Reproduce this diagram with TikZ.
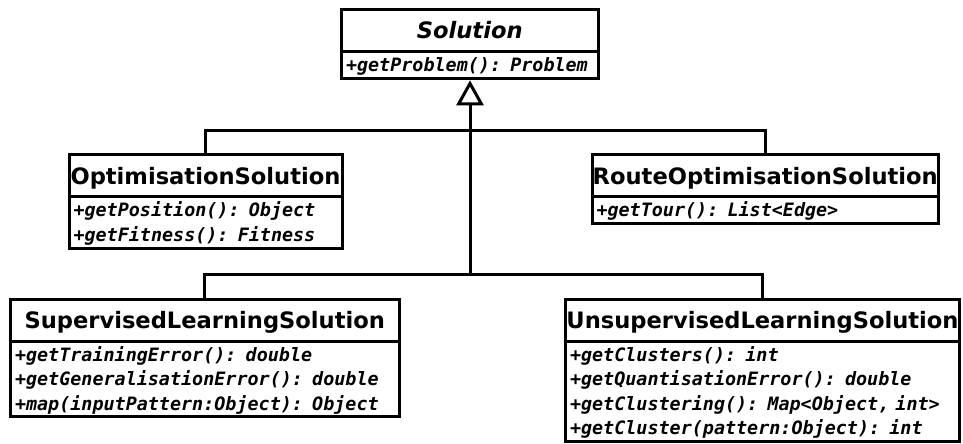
\documentclass[tikz,border=0pt]{standalone}
\usepackage{fontspec}
\usetikzlibrary{positioning,arrows.meta}
\newfontfamily\dejasans{DejaVu Sans}
\newfontfamily\dejamono{DejaVu Sans Mono}
\newcommand\opsstrut{\leavevmode\rule{0pt}{17pt}}
\tikzset{
  class box/.style={
    draw,
    line width=3pt,
    outer sep=0pt,
    inner xsep=-3pt,
    inner ysep=0pt,
    minimum width={#1},
    minimum height={42pt},
    anchor=north west,
    text height=17pt,
    text depth=0pt,
    font=\dejasans\bfseries\fontsize{22.6}{27}\selectfont,
  },
  method box/.style={
    draw,
    line width=3pt,
    outer sep=0pt,
    inner xsep=4.5pt,
    inner ysep=3pt,
    text width={#1},
    align=left,
    execute at begin node=\opsstrut,
    font=\dejamono\bfseries\itshape\fontsize{18.4}{24.5}\selectfont,
  },
  inherit/.style={
    line width=3pt,
  }
}

\begin{document}
\begin{tikzpicture}[x=1pt, y=-1pt]
        \useasboundingbox (0,0) rectangle (963,444);

        \node [class box=256.5pt] (sol) at (341.5,9.5) {\itshape Solution};
        \node [method box=247.5pt, below=0pt of sol] (sol ops) {+getProblem(): Problem};

        \node [class box=273pt] (opt) at (69,154.7) {OptimisationSolution};
        \node [method box=264pt, below=0pt of opt] (opt ops) {+getPosition(): Object\\+getFitness(): Fitness};

        \node [class box=346.5pt] (route) at (592,154.7) {RouteOptimisationSolution};
        \node [method box=337.5pt, below=0pt of route] (route ops) {+getTour(): List<Edge>};

        \node [class box=388.5pt] (sup) at (10.5,299) {SupervisedLearningSolution};
        \node [method box=379.5pt, below=0pt of sup] (sup ops) {+getTrainingError(): double\\+getGeneralisationError(): double\\+map(inputPattern:Object): Object};

        \node [class box=394pt] (unsup) at (565.5,299) {UnsupervisedLearningSolution};
        \node [method box=385pt, below=0pt of unsup] (unsup ops) {+getClusters(): int\\+getQuantisationError(): double\\+getClustering(): Map<Object, int>\\+getCluster(pattern:Object): int};

        \coordinate (upper bar) at (470,130.7);
        \coordinate (lower bar) at (470,274);

        \draw [inherit] (opt.north) |- (upper bar) -| (route.north);
        \draw [inherit] (sup.north) |- (lower bar) -| (unsup.north);
        \draw [inherit, -{Triangle[length=25pt, width=27pt, fill=white]}, shorten >=2pt] (lower bar) -- (lower bar |- sol ops.south);
    \end{tikzpicture}
\end{document}
